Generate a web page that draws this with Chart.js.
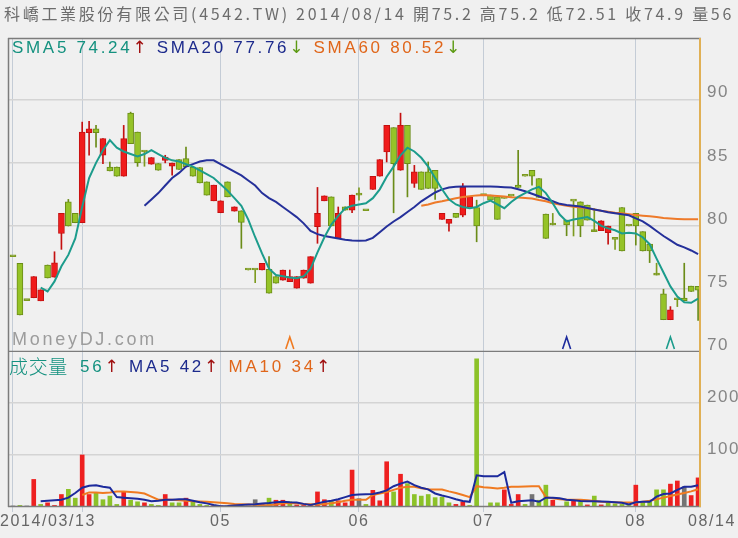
<!DOCTYPE html>
<html>
<head>
<meta charset="utf-8">
<script src="https://cdn.jsdelivr.net/npm/chart.js@4.4.1/dist/chart.umd.min.js"></script>
<style>
body { margin: 0; background: #f0f0f0; width: 738px; height: 538px; overflow: hidden; position: relative; font-family: "Liberation Sans", Arial, "Noto Sans CJK TC", sans-serif; }
canvas { position: absolute; left: 0; }
.txt { position: absolute; white-space: nowrap; line-height: 20px; }
.arr { font-family: "DejaVu Sans", sans-serif; }
#title { left: 4px; top: 3px; font-size: 16px; color: #6c6c6c; font-family: "Noto Sans CJK TC", sans-serif; }
#leg1 { left: 12px; top: 37px; font-size: 17px; }
#volName { left: 9px; top: 356px; font-size: 19px; color: #14917f; font-family: "Noto Sans CJK TC", sans-serif; font-weight: 300; }
#leg2 { left: 80px; top: 356px; font-size: 17px; }
#mdj { left: 12px; top: 329px; font-size: 18px; color: #9c9c9c; }
</style>
</head>
<body>
<canvas id="price" width="738" height="352" style="top:0"></canvas>
<canvas id="vol" width="738" height="186" style="top:352px"></canvas>
<div class="txt" id="title">科嶠工業股份有限公司(4542.TW) 2014/08/14 開75.2 高75.2 低72.51 收74.9 量56</div>
<div class="txt" id="leg1"><span style="color:#14917f">SMA5 74.24</span><span class="arr" style="color:#a01010">↑</span> <span style="color:#1c2a8c">SMA20 77.76</span><span class="arr" style="color:#5c9a12">↓</span> <span style="color:#e0661a">SMA60 80.52</span><span class="arr" style="color:#5c9a12">↓</span></div>
<div class="txt" id="mdj">MoneyDJ.com</div>
<div class="txt" id="volName">成交量</div>
<div class="txt" id="leg2"><span style="color:#14917f">56</span><span class="arr" style="color:#a01010">↑</span> <span style="color:#1c2a8c">MA5 42</span><span class="arr" style="color:#a01010">↑</span> <span style="color:#e0661a">MA10 34</span><span class="arr" style="color:#a01010">↑</span></div>
<script>
// trading day index 0 = 2014/03/13, 99 = 2014/08/14 (day 79 had no trade)
const open = [77.55, 77.04, 74.08, 74.3, 74.06, 76.9, 75.93, 79.4, 81.9, 80.99,
  80.25, 87.4, 87.7, 85.6, 84.67, 84.67, 83.94, 88.94, 87.44, 85.86,
  84.89, 84.94, 85.2, 84.73, 85.26, 85.34, 84.67, 84.63, 83.49, 81.99,
  81.04, 83.49, 81.17, 81.2, 76.5, 76.5, 76.5, 76.56, 75.98, 75.7,
  75.58, 75.06, 75.85, 75.46, 79.93, 81.99, 82.3, 79.01, 81.51, 81.25,
  82.44, 81.2, 82.89, 83.94, 85.86, 87.79, 84.41, 87.97, 83.36, 84.28,
  84.28, 84.41, 80.52, 80.2, 80.99, 80.86, 81.5, 81.46, 82.4, 82.44,
  82.3, 82.17, 82.36, 83.23, 83.94, 84.41, 83.76, 80.93, 80.07, null,
  80.46, 81.96, 81.91, 81.65, 79.54, 79.62, 79.46, 78.93, 81.46, 79.99,
  80.99, 79.54, 78.56, 76.1, 74.61, 72.56, 74.14, 74.27, 75.22, 75.2];
const high = [77.55, 77.04, 74.08, 75.98, 74.93, 76.9, 77.95, 80.99, 82.1, 80.99,
  88.23, 88.3, 87.97, 86.92, 85.07, 84.67, 87.97, 89.02, 87.44, 85.9,
  85.42, 84.94, 85.6, 84.99, 85.26, 86.25, 84.67, 84.63, 83.49, 83.23,
  81.99, 83.49, 81.51, 81.2, 76.5, 76.5, 77.04, 77.56, 75.98, 76.5,
  76.5, 75.98, 76.5, 77.56, 83.05, 82.38, 82.3, 81.5, 81.51, 82.44,
  83.01, 81.2, 83.94, 85.26, 87.97, 87.79, 88.94, 87.97, 84.8, 84.28,
  85.07, 84.41, 80.99, 80.52, 80.99, 83.36, 82.3, 82.04, 82.4, 82.44,
  82.3, 82.17, 82.36, 85.99, 83.94, 84.41, 83.76, 80.93, 80.99, null,
  80.46, 81.96, 81.91, 81.65, 81.38, 80.41, 79.99, 78.93, 81.46, 79.99,
  80.99, 79.54, 78.56, 77.04, 74.98, 73.6, 74.14, 77.04, 75.22, 75.2];
const low = [77.55, 72.95, 74.08, 74.3, 74.06, 75.87, 75.93, 78.14, 79.99, 80.25,
  80.25, 85.6, 86.25, 84.94, 84.36, 83.94, 83.94, 86.52, 84.72, 84.73,
  84.89, 84.41, 85.0, 84.02, 84.47, 84.67, 83.94, 83.41, 82.44, 81.99,
  81.04, 82.3, 81.17, 78.22, 76.5, 75.5, 76.5, 74.67, 75.46, 75.7,
  75.58, 75.06, 75.85, 75.46, 78.62, 81.99, 79.99, 79.01, 81.25, 81.04,
  82.04, 81.2, 82.89, 83.94, 85.07, 81.04, 84.41, 82.3, 83.05, 82.89,
  82.97, 82.1, 80.52, 79.59, 80.67, 80.72, 81.5, 78.74, 82.4, 82.04,
  80.52, 82.17, 82.36, 83.05, 83.94, 83.23, 82.26, 79.01, 80.07, null,
  79.22, 79.2, 79.14, 80.46, 79.54, 79.62, 78.56, 78.14, 78.01, 79.99,
  78.48, 78.01, 77.09, 76.1, 72.56, 72.56, 73.6, 74.08, 74.8, 72.51];
const close = [77.55, 72.95, 74.08, 75.98, 74.93, 75.87, 77.08, 80.99, 79.99, 80.25,
  87.44, 87.7, 87.4, 86.92, 84.36, 83.94, 86.92, 86.52, 85.02, 85.86,
  85.42, 84.41, 85.46, 84.99, 84.47, 84.67, 83.94, 83.41, 82.44, 83.23,
  81.99, 82.3, 81.51, 80.28, 76.5, 76.5, 77.04, 74.67, 75.46, 76.5,
  75.98, 75.98, 76.5, 77.56, 80.99, 82.38, 79.99, 80.99, 81.25, 82.44,
  82.44, 81.2, 83.94, 85.26, 87.97, 84.94, 87.97, 84.94, 84.28, 82.89,
  82.97, 82.97, 80.99, 80.52, 80.67, 83.05, 82.3, 79.99, 82.4, 82.04,
  80.52, 82.17, 82.36, 83.05, 83.94, 83.94, 82.26, 79.01, 80.07, null,
  80.07, 81.96, 79.99, 80.46, 79.54, 80.41, 79.99, 78.93, 78.01, 79.99,
  79.99, 78.01, 78.01, 76.1, 72.56, 73.35, 74.14, 74.08, 74.8, 74.9];

const sma5Start = 4;
const sma5 = [75.1, 74.8, 75.6, 76.8, 77.7, 79.0, 81.5, 83.8, 85.0, 86.0,
  86.8, 86.2, 85.9, 85.7, 85.5, 85.7, 86.0, 85.7, 85.4, 85.2,
  85.1, 84.9, 84.7, 84.4, 84.1, 83.8, 83.3, 82.8, 82.2, 81.6,
  80.5, 79.1, 77.8, 76.6, 76.1, 76.0, 75.9, 75.85, 76.0, 76.6,
  77.9, 79.1, 80.1, 80.8, 81.4, 81.6, 81.7, 81.8, 82.2, 82.9,
  83.9, 84.7, 85.6, 86.2, 85.9, 85.4, 84.7, 83.8, 82.9, 82.1,
  81.7, 81.5, 81.4, 81.5, 81.8, 82.0, 81.7, 81.4, 81.9, 82.3,
  82.6, 82.9, 83.1, 82.6, 81.8, 80.9, 80.35, 80.5, 80.6, 80.7,
  80.4, 80.0, 79.8, 79.65, 79.4, 79.45, 79.4, 79.1, 78.55, 77.4,
  76.3, 75.2, 74.4, 73.95, 73.9, 74.24];
const sma20Start = 19;
const sma20 = [81.6, 82.1, 82.6, 83.2, 83.8, 84.2, 84.7, 84.9, 85.1, 85.2,
  85.2, 84.9, 84.6, 84.3, 84.0, 83.6, 83.2, 82.6, 82.2, 81.9,
  81.5, 81.1, 80.7, 80.2, 79.6, 79.35, 79.2, 79.1, 79.0, 78.9,
  78.85, 78.83, 78.85, 79.05, 79.5, 79.95, 80.35, 80.7, 81.1, 81.5,
  81.95, 82.3, 82.65, 82.9, 83.05, 83.1, 83.12, 83.12, 83.12, 83.12,
  83.12, 83.1, 83.07, 83.04, 82.9, 82.75, 82.55, 82.35, 82.15, 81.95,
  81.75, 81.65, 81.6, 81.53, 81.42, 81.3, 81.2, 81.08, 81.0, 80.92,
  80.84, 80.6, 80.36, 80.0, 79.6, 79.2, 78.85, 78.5, 78.3, 78.05,
  77.76];
const sma60Start = 59;
const sma60 = [81.6, 81.7, 81.85, 81.95, 82.08, 82.2, 82.3, 82.36, 82.42, 82.45,
  82.42, 82.38, 82.33, 82.28, 82.25, 82.22, 82.18, 82.05, 81.95, 81.8,
  81.7, 81.59, 81.52, 81.46, 81.4, 81.3, 81.2, 81.12, 81.05, 81.0,
  80.93, 80.87, 80.81, 80.76, 80.7, 80.62, 80.58, 80.55, 80.53, 80.52,
  80.52];

const volume = [2, 3, 2, 53, 5, 8, 3, 24, 34, 17,
  100, 24, 27, 14, 21, 5, 29, 13, 10, 8,
  5, 3, 24, 8, 8, 17, 10, 5, 3, 3,
  2, 2, 2, 3, 2, 14, 5, 17, 13, 13,
  10, 4, 3, 5, 29, 14, 12, 12, 8, 71,
  16, 5, 32, 12, 87, 29, 63, 45, 24, 21,
  24, 18, 19, 8, 5, 10, 3, 285, 0, 8,
  8, 33, 5, 24, 5, 24, 13, 42, 13, null,
  10, 13, 10, 4, 21, 4, 8, 6, 5, 3,
  42, 10, 10, 33, 33, 44, 50, 39, 22, 56];
// r = up on previous close, g = down, n = unchanged
const volDir = ['n','g','n','r','g','r','r','r','g','g',
  'r','r','g','g','g','g','r','g','g','r',
  'g','g','r','g','g','r','g','g','g','r',
  'r','g','r','g','n','n','r','g','r','r',
  'g','r','r','r','r','r','g','r','r','r',
  'n','g','r','r','r','g','r','g','g','g',
  'g','g','g','g','r','r','g','g','n','g',
  'g','r','r','r','g','n','g','g','r','n',
  'g','r','g','r','g','r','g','g','g','g',
  'r','g','g','g','g','r','r','n','r','r'];
const volMa5Start = 4;
const volMa5 = [11, 12, 13, 14, 18, 27, 37, 41, 42, 39,
  37, 19, 18, 17, 16, 14, 11, 12, 14, 14,
  15, 15, 12, 9, 7, 4, 1.5, 2, 3, 4,
  5, 5.5, 6.5, 7.5, 9, 10, 9, 8.5, 6, 4,
  7, 10, 12, 15, 19, 23, 24, 24.5, 25, 28,
  32, 40, 45, 49, 42, 37, 34, 26, 22, 19,
  15, 11.5, 10, 61, 59, 59, 59, 67, 8, 11,
  12, 13, 10, 18, 18, 17, 14, 13, 11.5, 11,
  11, 10.5, 10, 9, 8, 5, 9, 10, 10, 20,
  25, 26, 33, 39, 39, 42];
const volMa10Start = 10;
const volMa10 = [23, 28, 28, 27, 28, 30, 30, 29, 28, 26,
  20, 14, 14, 14, 13, 12, 11, 10.5, 10, 9,
  8, 7, 6, 5.5, 5, 4.5, 3.5, 3.5, 5, 7,
  7, 7, 6, 5.5, 5, 6, 7, 9, 12, 14,
  14, 14, 23, 26, 29, 33, 37, 39, 39, 36,
  34, 33.5, 33.5, 30, 27, 23, 19, 40, 38, 37,
  35.5, 37, 39, 39, 39.5, 40, 40, 19, 17, 15,
  14, 14, 14, 13, 11.5, 10, 9.5, 9, 8.5, 8.5,
  8, 10, 12, 15, 18, 21, 24, 27, 30, 34];

const gridDays = [0, 10, 30, 50, 68, 90];
const xTickDays = [0, 30, 50, 68, 90, 99];
const xTickLabels = ['2014/03/13', '05', '06', '07', '08', '08/14'];
const priceTicks = [70, 75, 80, 85, 90];
const volTicks = [100, 200];
const markDays = [40, 80, 95];
const markColors = ['#f07a20', '#1c2a9c', '#1c9c8c'];

const RED = '#f01c1c', RED_EDGE = '#c41010';
const GRN = '#95c328', GRN_EDGE = '#6b8c18';
const FLAT = '#7d9b20';

Chart.defaults.font.family = '"Liberation Sans", Arial, sans-serif';
Chart.defaults.animation = false;

const days = open.map((v, i) => i).filter(i => open[i] !== null);
function dir(i) { return close[i] > open[i] ? 'up' : (close[i] < open[i] ? 'down' : 'flat'); }
const bodyFill = { up: RED, down: GRN, flat: FLAT };
const bodyEdge = { up: RED_EDGE, down: GRN_EDGE, flat: FLAT };
const line = (vals, start) => vals.map((v, k) => ({ x: k + start, y: v }));

function noPad(s) {
  s.paddingTop = 0; s.paddingBottom = 0; s.paddingLeft = 0; s.paddingRight = 0;
}

const framePlugin = {
  id: 'frame',
  afterDraw(chart, args, opts) {
    const a = chart.chartArea, ctx = chart.ctx;
    ctx.save();
    ctx.strokeStyle = '#7c7c7c';
    ctx.lineWidth = 1.5;
    ctx.beginPath();
    ctx.moveTo(a.left + 0.5, a.top); ctx.lineTo(a.left + 0.5, a.bottom);
    if (opts.top) { ctx.moveTo(a.left, a.top + 0.5); ctx.lineTo(a.right, a.top + 0.5); }
    ctx.moveTo(a.left, a.bottom - 0.5); ctx.lineTo(a.right, a.bottom - 0.5);
    ctx.stroke();
    ctx.strokeStyle = '#e0b055';
    ctx.lineWidth = 2;
    ctx.beginPath();
    ctx.moveTo(a.right - 1, a.top); ctx.lineTo(a.right - 1, a.bottom);
    ctx.stroke();
    ctx.restore();
  }
};

const spacingPlugin = {
  id: 'spacing',
  beforeDraw(chart) { chart.ctx.letterSpacing = '1.5px'; }
};

const markPlugin = {
  id: 'marks',
  afterDatasetsDraw(chart) {
    const xs = chart.scales.x, a = chart.chartArea, ctx = chart.ctx;
    ctx.save();
    ctx.lineWidth = 1.6;
    markDays.forEach((d, k) => {
      const px = xs.getPixelForValue(d);
      ctx.strokeStyle = markColors[k];
      ctx.beginPath();
      ctx.moveTo(px - 4, a.bottom - 3);
      ctx.lineTo(px, a.bottom - 15);
      ctx.lineTo(px + 4, a.bottom - 3);
      ctx.stroke();
    });
    ctx.restore();
  }
};

const xLabelPlugin = {
  id: 'xlabels',
  afterDraw(chart) {
    const xs = chart.scales.x, ctx = chart.ctx;
    ctx.save();
    ctx.font = '16px "Liberation Sans", Arial, sans-serif';
    ctx.letterSpacing = '1.6px';
    ctx.fillStyle = '#666666';
    ctx.textBaseline = 'middle';
    xTickLabels.forEach((t, k) => {
      const w = ctx.measureText(t).width;
      let x = xs.getPixelForValue(xTickDays[k]) - w / 2;
      if (k === 0) x = Math.max(0, x);
      if (k === xTickLabels.length - 1) x = chart.width - w - 2;
      ctx.fillText(t, x, chart.chartArea.bottom + 15);
    });
    ctx.restore();
  }
};

function xScale(height) {
  return {
    type: 'linear', min: -0.72, max: 99.42, offset: false,
    afterBuildTicks: s => { s.ticks = gridDays.map(v => ({ value: v })); },
    ticks: { display: false },
    grid: { color: '#c4ccd6', lineWidth: 1, drawTicks: height > 0, tickLength: 5, offset: false },
    border: { display: false },
    afterFit: s => { s.height = height; noPad(s); }
  };
}

function yScale(min, max, ticks, offset) {
  return {
    position: 'right', min: min, max: max,
    afterBuildTicks: s => { s.ticks = ticks.map(v => ({ value: v })); },
    ticks: { color: '#858585', font: { size: 17 }, padding: 6, labelOffset: offset },
    grid: { color: '#d4d4d4', lineWidth: 1.5, drawTicks: false },
    border: { display: false },
    afterFit: s => { s.width = 37; noPad(s); }
  };
}

new Chart(document.getElementById('price'), {
  type: 'bar',
  data: {
    datasets: [
      { type: 'line', data: line(sma5, sma5Start), borderColor: '#1c9c8c', borderWidth: 2, pointRadius: 0, order: 0 },
      { type: 'line', data: line(sma20, sma20Start), borderColor: '#25309a', borderWidth: 2, pointRadius: 0, order: 0 },
      { type: 'line', data: line(sma60, sma60Start), borderColor: '#ee7a2a', borderWidth: 2, pointRadius: 0, order: 0 },
      { data: days.map(i => ({ x: i, y: [open[i], close[i]] })),
        backgroundColor: days.map(i => bodyFill[dir(i)]), borderColor: days.map(i => bodyEdge[dir(i)]),
        borderWidth: 1, borderSkipped: false, barThickness: 6, minBarLength: 2, grouped: false, order: 1 },
      { data: days.map(i => ({ x: i, y: [low[i], high[i]] })),
        backgroundColor: days.map(i => bodyEdge[dir(i)]),
        borderWidth: 0, barThickness: 1, grouped: false, order: 2 }
    ]
  },
  options: {
    responsive: false, devicePixelRatio: 1,
    layout: { padding: { left: 8, top: 38, right: 0, bottom: 0 } },
    plugins: { legend: { display: false }, tooltip: { enabled: false }, frame: { top: true } },
    scales: { x: xScale(0), y: yScale(70, 94.9, priceTicks, -7) }
  },
  plugins: [spacingPlugin, framePlugin, markPlugin]
});

const volDays = volume.map((v, i) => i).filter(i => volume[i] !== null);
const volFill = { r: '#ee2020', g: '#8cc228', n: '#747474' };

new Chart(document.getElementById('vol'), {
  type: 'bar',
  data: {
    datasets: [
      { type: 'line', data: line(volMa5, volMa5Start), borderColor: '#1c2a9c', borderWidth: 2, pointRadius: 0, order: 0 },
      { type: 'line', data: line(volMa10, volMa10Start), borderColor: '#f07a20', borderWidth: 2, pointRadius: 0, order: 0 },
      { data: volDays.map(i => ({ x: i, y: volume[i] })),
        backgroundColor: volDays.map(i => volFill[volDir[i]]),
        borderWidth: 0, barThickness: 4, grouped: false, order: 1 }
    ]
  },
  options: {
    responsive: false, devicePixelRatio: 1,
    layout: { padding: { left: 8, top: 0, right: 0, bottom: 0 } },
    plugins: { legend: { display: false }, tooltip: { enabled: false }, frame: { top: false } },
    scales: { x: xScale(31), y: yScale(0, 298, volTicks, -6) }
  },
  plugins: [spacingPlugin, framePlugin, xLabelPlugin]
});

// stretch text lines to the widths they have in the picture
function fitWidth(id, target) {
  const el = document.getElementById(id);
  const n = el.textContent.length;
  const w = el.getBoundingClientRect().width;
  el.style.letterSpacing = ((target - w) / n) + 'px';
}
fitWidth('title', 730);
fitWidth('leg1', 451);
fitWidth('mdj', 145);
fitWidth('volName', 59);
fitWidth('leg2', 253);
</script>
</body>
</html>
